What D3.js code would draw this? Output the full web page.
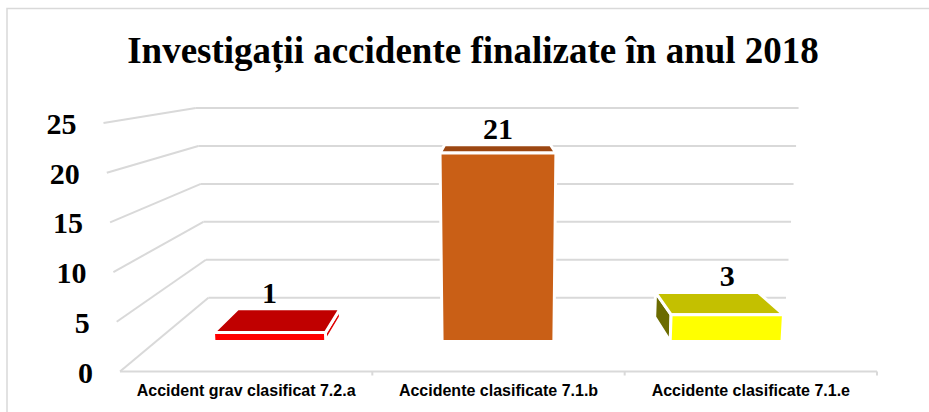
<!DOCTYPE html>
<html><head><meta charset="utf-8">
<script src="https://cdn.jsdelivr.net/npm/d3@7"></script>
<style>html,body{margin:0;padding:0;background:#fff;} svg{display:block;}</style>
</head><body>
<svg id="chart" width="929" height="412"></svg>
<script>
// ---- data ----
const chartTitle = "Investigații accidente finalizate în anul 2018";
const categories = ["Accident grav clasificat 7.2.a", "Accidente clasificate 7.1.b", "Accidente clasificate 7.1.e"];
const values = [1, 21, 3];
const yTicks = [0, 5, 10, 15, 20, 25];
// ---- palette (style) ----
const topColors = ["#C00000", "#9C4712", "#C4C000"];
const frontColors = ["#FF0000", "#C95F16", "#FFFF00"];
const sideColors = ["#E00000", "#8A3E0E", "#6B6B00"];

const svg = d3.select("#chart");
const serif = "'Liberation Serif','Times New Roman',serif";
const sans = "'Liberation Sans',Arial,sans-serif";

// chart area border (only top/left visible in the reference)
svg.append("path").attr("d", "M7,412V8.5H929").attr("fill", "none")
  .attr("stroke", "#d9d9d9").attr("stroke-width", 1.5);

// ---- scales & 3D projection ----
const y = d3.scaleLinear().domain([0, 25]).range([371.5, 123]);
const x = d3.scaleBand().domain(categories).range([120, 877]);
const V = {x: 493, y: 60};            // vanishing point
const keyCx = 498.5, keyK = 0.0436 / 25; // slight keystone
const S_WALL = 0.763, S_BAR_F = 0.904, S_BAR_B = 0.825, BAR_W = 0.49;
function fx(xb, v) { return keyCx + (xb - keyCx) * (1 + keyK * v); }
function proj(xb, v, s) {
  const X = fx(xb, v), Y = y(v);
  return [V.x + (X - V.x) * s, V.y + (Y - V.y) * s];
}
const line = d3.line();
const [x0, x1] = x.range();

// ---- gridlines (back wall + side wall) ----
const grid = svg.append("g").attr("stroke", "#d9d9d9").attr("stroke-width", 2).attr("fill", "none");
yTicks.forEach(t => {
  grid.append("path").attr("d", line([proj(x0, t, S_WALL), proj(x1, t, S_WALL)]));
  grid.append("path").attr("d", line([proj(x0, t, 1), proj(x0, t, S_WALL)]));
});
// floor front edge + category ticks
grid.append("path").attr("d", line([proj(x0, 0, 1), proj(x1, 0, 1)]));
categories.forEach((c, i) => {
  const xb = x(c) + x.step();
  const p = proj(xb, 0, 1);
  grid.append("path").attr("d", line([p, [p[0], p[1] + 4]]));
});

// ---- y tick labels ----
svg.append("g").selectAll("text").data(yTicks).join("text")
  .attr("x", t => proj(x0, t, 1)[0] - 27)
  .attr("y", t => y(t) + 11)
  .attr("text-anchor", "end")
  .attr("font-family", serif).attr("font-weight", "bold").attr("font-size", 30)
  .text(t => t);

// ---- bars ----
const bars = svg.append("g").attr("stroke", "#fff").attr("stroke-width", 3).attr("stroke-linejoin", "round");
categories.forEach((c, i) => {
  const v = values[i];
  const b0 = x(c) + x.bandwidth() * (1 - BAR_W) / 2;
  const b1 = b0 + x.bandwidth() * BAR_W;
  const g = bars.append("g");
  // visible side face
  if (proj(b1, v, S_BAR_F)[0] < V.x) {
    g.append("path").attr("fill", sideColors[i])
      .attr("d", line([proj(b1, v, S_BAR_F), proj(b1, v, S_BAR_B), proj(b1, 0, S_BAR_B), proj(b1, 0, S_BAR_F)]) + "Z");
  } else if (proj(b0, v, S_BAR_F)[0] > V.x) {
    g.append("path").attr("fill", sideColors[i])
      .attr("d", line([proj(b0, v, S_BAR_F), proj(b0, v, S_BAR_B), proj(b0, 0, S_BAR_B), proj(b0, 0, S_BAR_F)]) + "Z");
  }
  // top face
  g.append("path").attr("fill", topColors[i])
    .attr("d", line([proj(b0, v, S_BAR_F), proj(b1, v, S_BAR_F), proj(b1, v, S_BAR_B), proj(b0, v, S_BAR_B)]) + "Z");
  // front face
  g.append("path").attr("fill", frontColors[i])
    .attr("d", line([proj(b0, v, S_BAR_F), proj(b1, v, S_BAR_F), proj(b1, 0, S_BAR_F), proj(b0, 0, S_BAR_F)]) + "Z");
  // data label
  const cx = x(c) + x.bandwidth() / 2;
  svg.append("text")
    .attr("x", proj(cx, v, S_BAR_F)[0])
    .attr("y", proj(cx, v, S_BAR_B)[1] - 6)
    .attr("text-anchor", "middle")
    .attr("font-family", serif).attr("font-weight", "bold").attr("font-size", 30)
    .text(v);
});

// ---- category labels ----
svg.append("g").selectAll("text").data(categories).join("text")
  .attr("x", c => x(c) + x.bandwidth() / 2)
  .attr("y", 396)
  .attr("text-anchor", "middle")
  .attr("font-family", sans).attr("font-weight", "bold").attr("font-size", 16)
  .text(c => c);

// ---- title ----
svg.append("text").attr("x", 473).attr("y", 62.5).attr("text-anchor", "middle")
  .attr("font-family", serif).attr("font-weight", "bold").attr("font-size", 37)
  .text(chartTitle);
</script>
</body></html>
